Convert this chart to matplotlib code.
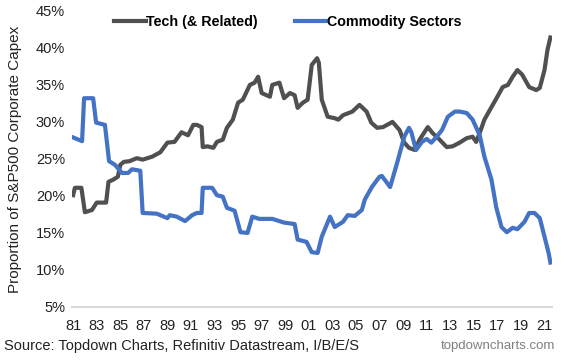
import matplotlib
matplotlib.use("Agg")
import matplotlib.pyplot as plt

plt.rcParams['font.family'] = ['Liberation Sans', 'DejaVu Sans']

# Tech (& Related) share of S&P500 capex, %
tech_years = [1981.0, 1981.15, 1981.7, 1982.0, 1982.6, 1983.0, 1983.5, 1983.8, 1984.0, 1984.4,
              1984.8, 1985.0, 1985.3, 1985.8, 1986.4, 1986.9, 1987.7, 1988.4, 1989.0, 1989.6,
              1990.2, 1990.75, 1991.2, 1991.5, 1991.9, 1992.0, 1992.4, 1992.9, 1993.2, 1993.7,
              1994.05, 1994.55, 1995.0, 1995.4, 1996.0, 1996.4, 1996.7, 1997.0, 1997.7, 1997.9,
              1998.5, 1998.9, 1999.4, 1999.8, 2000.05, 2000.5, 2000.9, 2001.25, 2001.7, 2001.85,
              2002.1, 2002.6, 2003.2, 2003.5, 2003.9, 2004.7, 2005.3, 2005.9, 2006.3, 2006.8,
              2007.3, 2008.1, 2008.7, 2009.1, 2009.5, 2010.0, 2010.4, 2011.1, 2011.5, 2012.1,
              2012.7, 2013.2, 2013.8, 2014.4, 2014.9, 2015.2, 2015.5, 2015.9, 2016.5, 2017.0,
              2017.45, 2017.9, 2018.3, 2018.7, 2019.1, 2019.7, 2020.3, 2020.6, 2021.0, 2021.25,
              2021.5]
tech_share = [20.1, 21.1, 21.1, 17.8, 18.1, 19.1, 19.1, 19.1, 21.9, 22.2,
              22.6, 24.2, 24.6, 24.7, 25.1, 24.9, 25.3, 25.9, 27.2, 27.3,
              28.6, 28.2, 29.6, 29.6, 29.3, 26.6, 26.7, 26.5, 27.3, 27.6,
              29.2, 30.3, 32.6, 33.0, 35.0, 35.3, 36.1, 33.9, 33.4, 35.0,
              35.3, 33.2, 33.9, 33.6, 31.9, 32.6, 33.0, 37.7, 38.6, 38.0,
              33.0, 30.7, 30.5, 30.3, 30.9, 31.4, 32.3, 31.4, 29.9, 29.2,
              29.3, 30.0, 28.9, 27.2, 26.5, 26.2, 27.6, 29.3, 28.5, 27.6,
              26.6, 26.7, 27.2, 27.8, 28.0, 27.3, 28.5, 30.3, 32.0, 33.4,
              34.7, 35.0, 36.1, 37.0, 36.4, 34.7, 34.3, 34.6, 37.0, 39.7,
              41.4]

# Commodity Sectors share of S&P500 capex, %
comm_years = [1981.0, 1981.76, 1981.93, 1982.7, 1982.95, 1983.7, 1984.05, 1984.55, 1985.15, 1985.66,
              1986.0, 1986.7, 1986.9, 1988.1, 1989.0, 1989.2, 1989.8, 1990.5, 1991.1, 1991.5,
              1991.9, 1992.0, 1992.8, 1993.2, 1993.7, 1994.05, 1994.7, 1995.2, 1995.8, 1996.2,
              1996.8, 1997.9, 1998.9, 1999.8, 2000.05, 2000.8, 2001.25, 2001.75, 2002.1, 2002.8,
              2003.2, 2003.9, 2004.3, 2004.9, 2005.5, 2005.75, 2006.35, 2007.0, 2007.2, 2007.9,
              2008.5, 2009.1, 2009.5, 2009.7, 2010.1, 2010.6, 2011.0, 2011.4, 2011.85, 2012.3,
              2012.8, 2013.4, 2013.8, 2014.4, 2014.9, 2015.5, 2015.9, 2016.5, 2016.9, 2017.35,
              2017.8, 2018.3, 2018.7, 2019.3, 2019.7, 2020.15, 2020.6, 2021.0, 2021.35, 2021.5]
comm_share = [27.9, 27.4, 33.2, 33.2, 29.9, 29.6, 24.7, 24.2, 23.1, 23.1,
              23.6, 23.4, 17.7, 17.6, 17.0, 17.4, 17.2, 16.6, 17.4, 17.7,
              17.7, 21.1, 21.1, 20.1, 19.9, 18.4, 18.0, 15.1, 15.0, 17.2,
              16.9, 16.9, 16.4, 16.2, 14.1, 13.8, 12.4, 12.3, 14.5, 17.2,
              15.8, 16.5, 17.4, 17.3, 18.1, 19.5, 21.2, 22.6, 22.7, 21.2,
              24.5, 28.0, 29.2, 28.6, 26.2, 27.3, 27.7, 27.2, 28.0, 28.9,
              30.7, 31.4, 31.4, 31.2, 30.3, 28.2, 25.3, 22.2, 18.5, 15.8,
              15.1, 15.7, 15.5, 16.5, 17.7, 17.7, 17.0, 14.5, 12.3, 11.0]

tick_years = list(range(1981, 2022, 2))
tick_labels = ["%02d" % (y % 100) for y in tick_years]
y_ticks = list(range(5, 50, 5))

fig = plt.figure(figsize=(5.71, 3.62), dpi=100)
ax = fig.add_axes([0.126, 0.152, 0.841, 0.818])

ax.plot(tech_years, tech_share, color='#505050', lw=3.0, label='Tech (& Related)',
        solid_joinstyle='round')
ax.plot(comm_years, comm_share, color='#4472C4', lw=3.0, label='Commodity Sectors',
        solid_joinstyle='round')

ax.set_xlim(1980.9, 2021.65)
ax.set_ylim(5, 45)
ax.set_xticks(tick_years)
ax.set_xticklabels(tick_labels)
ax.set_yticks(y_ticks)
ax.set_yticklabels(["%d%%" % v for v in y_ticks])
ax.tick_params(length=0, labelsize=10.5, colors='#222222')
ax.tick_params(axis='x', pad=9)
ax.tick_params(axis='y', pad=5)

for s in ['top', 'right', 'left']:
    ax.spines[s].set_visible(False)
ax.spines['bottom'].set_color('#d9d9d9')
ax.spines['bottom'].set_linewidth(1.5)

ax.set_ylabel('Proportion of S&P500 Corporate Capex', fontsize=11, color='#222222', labelpad=10)

leg = ax.legend(loc='upper center', bbox_to_anchor=(0.45, 1.03), ncol=2, frameon=False,
                handlelength=2.2, handletextpad=0.05, columnspacing=2.6,
                prop={'weight': 'bold', 'size': 10.3})

fig.text(0.007, 0.045, 'Source: Topdown Charts, Refinitiv Datastream, I/B/E/S',
         fontsize=10.5, color='#222222', va='center')
fig.text(0.972, 0.045, 'topdowncharts.com', fontsize=9.5, color='#808080',
         va='center', ha='right')

fig.savefig('out.png', dpi=100)
